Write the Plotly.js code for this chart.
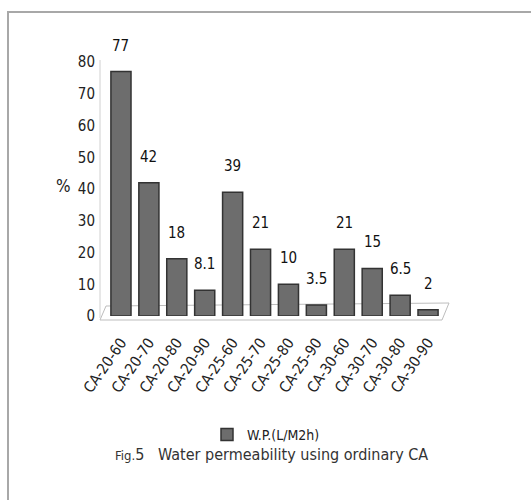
<!DOCTYPE html>
<html><head><meta charset="utf-8">
<script src="https://cdn.plot.ly/plotly-3.0.1.min.js"></script>
<style>body{margin:0;background:#fff}</style>
</head><body>
<div id="chart" style="width:531px;height:500px"></div>
<script>
const categories = ["CA-20-60","CA-20-70","CA-20-80","CA-20-90","CA-25-60","CA-25-70","CA-25-80","CA-25-90","CA-30-60","CA-30-70","CA-30-80","CA-30-90"];
const wpValues = [77, 42, 18, 8.1, 39, 21, 10, 3.5, 21, 15, 6.5, 2];
const yTicks = [0, 10, 20, 30, 40, 50, 60, 70, 80];
const seriesName = "W.P.(L/M2h)";

const FONT = "'DejaVu Sans Condensed', 'Liberation Sans Narrow', 'Liberation Sans', sans-serif";
// plot area in px
const L = 107, R = 442, T = 62, B = 316;
const px = x => (x - L) / (R - L);
const py = y => (B - y) / (B - T);

const trace = {
  type: 'bar',
  x: categories,
  y: wpValues,
  name: seriesName,
  marker: {color: '#6d6d6d', line: {color: '#333333', width: 1.5}},
  width: 0.72,
  cliponaxis: false,
  showlegend: true
};

const valueLabels = categories.map((c, i) => ({
  x: c, y: wpValues[i], xref: 'x', yref: 'y',
  text: String(wpValues[i]), showarrow: false,
  yanchor: 'bottom', yshift: 15,
  font: {family: FONT, size: 15, color: '#111'}
}));

const layout = {
  width: 531, height: 500,
  margin: {l: L, r: 531 - R, t: T, b: 500 - B},
  paper_bgcolor: '#fff', plot_bgcolor: '#fff',
  font: {family: FONT, color: '#222'},
  xaxis: {
    type: 'category',
    tickangle: -55,
    tickfont: {family: FONT, size: 15, color: '#222'},
    ticklabelstandoff: 14,
    showgrid: false, zeroline: false, showline: false, ticks: ''
  },
  yaxis: {
    range: [0, 80],
    tickvals: yTicks,
    tickfont: {family: FONT, size: 15, color: '#222'},
    ticklabelstandoff: 11,
    showgrid: false, zeroline: false, showline: false,
    ticks: ''
  },
  showlegend: true,
  legend: {
    orientation: 'h', x: px(266), xanchor: 'center', y: py(435), yanchor: 'middle',
    font: {family: FONT, size: 14, color: '#222'}, itemwidth: 30
  },
  annotations: valueLabels.concat([
    {text: '%', xref: 'paper', yref: 'paper', x: px(54), y: py(186), showarrow: false,
     font: {family: FONT, size: 17, color: '#222'}},
    {text: '<span style="font-size:13px">Fig.</span>5   Water permeability using ordinary CA', xref: 'paper', yref: 'paper',
     x: px(271), y: py(466), showarrow: false,
     font: {family: FONT, size: 16, color: '#333'}}
  ]),
  shapes: [
    {type: 'path', xref: 'paper', yref: 'paper',
     path: `M ${px(8)} ${py(510)} L ${px(8)} ${py(12)} L ${px(540)} ${py(12)}`,
     line: {color: '#a8a8a8', width: 2}},
    {type: 'line', xref: 'paper', yref: 'paper',
     x0: px(100), x1: px(100), y0: py(318), y1: py(60),
     line: {color: '#d0d0d0', width: 1}},
    {type: 'path', xref: 'paper', yref: 'paper',
     path: `M ${px(100)} ${py(320)} L ${px(106)} ${py(306)} L ${px(449)} ${py(303)} L ${px(442)} ${py(320)} Z`,
     line: {color: '#bdbdbd', width: 1}, layer: 'below'}
  ]
};

Plotly.newPlot('chart', [trace], layout, {displayModeBar: false, staticPlot: true});
</script>
</body></html>
